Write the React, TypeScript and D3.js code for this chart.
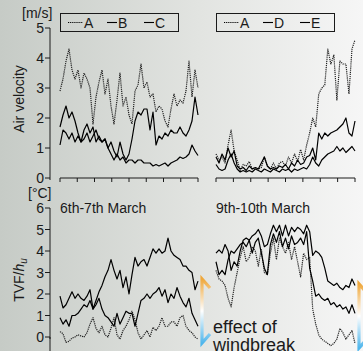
import React from 'react';
import * as d3 from 'd3';

const W = 363;
const H = 351;

// time axis: 48 h per panel, ticks every 6 h
const hourTicks = [0, 6, 12, 18, 24, 30, 36, 42, 48];
const velTicks = [0, 1, 2, 3, 4, 5];
const tempTicks = [0, 1, 2, 3, 4, 5, 6];

// Air velocity [m/s], 6th-7th March
const velA_67 = [2.9, 3.3, 3.9, 4.3, 3.6, 3.3, 3.6, 3.0, 3.5, 3.3, 3.0, 1.8, 2.7, 3.2, 3.6, 2.8, 3.3, 2.4, 1.8, 2.6, 3.5, 2.4, 2.7, 2.1, 1.8, 2.9, 3.1, 3.8, 3.0, 3.2, 2.7, 2.8, 2.2, 2.4, 2.3, 1.9, 1.7, 2.3, 2.8, 2.4, 2.6, 2.5, 2.9, 3.9, 2.7, 3.6, 3.0];
const velB_67 = [1.7, 2.1, 2.4, 2.0, 2.2, 1.9, 1.5, 1.2, 1.6, 1.8, 1.5, 1.7, 1.2, 1.4, 1.2, 1.3, 1.0, 1.2, 0.9, 0.7, 1.2, 0.8, 0.6, 0.8, 1.3, 1.9, 2.2, 2.1, 2.3, 2.3, 1.6, 2.2, 1.1, 1.4, 1.3, 1.5, 1.4, 1.6, 1.5, 1.5, 1.7, 1.5, 1.4, 1.6, 1.9, 2.7, 2.1];
const velC_67 = [1.1, 1.6, 1.5, 1.3, 1.5, 1.2, 1.4, 1.2, 1.3, 1.5, 1.2, 1.4, 1.6, 1.3, 1.2, 1.3, 1.0, 0.8, 0.6, 0.8, 0.6, 0.7, 0.5, 0.6, 0.6, 0.5, 0.6, 0.6, 0.5, 0.5, 0.5, 0.4, 0.45, 0.4, 0.45, 0.5, 0.4, 0.5, 0.55, 0.6, 0.7, 0.65, 0.7, 0.8, 1.1, 0.9, 0.75];

// Air velocity [m/s], 9th-10th March
const velA_910 = [0.8, 0.6, 0.7, 0.5, 1.1, 1.6, 0.9, 0.6, 0.25, 0.45, 0.4, 0.55, 0.3, 0.35, 0.3, 0.35, 0.7, 0.4, 0.3, 0.5, 0.3, 0.5, 0.55, 0.4, 0.7, 0.5, 0.8, 0.55, 0.95, 0.6, 1.1, 1.5, 2.0, 1.7, 2.8, 3.0, 3.1, 4.3, 3.8, 4.1, 2.6, 3.9, 3.8, 3.8, 2.8, 4.3, 4.6];
const velD_910 = [0.7, 0.5, 0.8, 0.6, 1.0, 0.7, 0.9, 0.4, 0.3, 0.35, 0.25, 0.4, 0.3, 0.35, 0.3, 0.5, 0.7, 0.4, 0.3, 0.35, 0.3, 0.4, 0.35, 0.45, 0.3, 0.5, 0.4, 0.6, 0.45, 0.5, 0.7, 0.75, 1.0, 0.6, 1.5, 1.3, 1.5, 1.4, 1.5, 1.55, 1.6, 1.7, 1.8, 2.0, 1.5, 1.4, 1.9];
const velE_910 = [0.45, 0.3, 0.25, 0.3, 0.6, 0.8, 0.5, 0.3, 0.2, 0.25, 0.2, 0.25, 0.2, 0.3, 0.25, 0.2, 0.3, 0.25, 0.2, 0.3, 0.25, 0.2, 0.3, 0.25, 0.3, 0.2, 0.3, 0.25, 0.3, 0.35, 0.3, 0.45, 0.7, 0.5, 0.4, 0.6, 0.7, 0.8, 0.85, 0.9, 1.05, 0.9, 1.0, 0.85, 0.95, 1.05, 0.9];

// TVF/h_u [°C], 6th-7th March
const tvfHigh_67 = [1.9, 1.35, 1.5, 1.8, 2.1, 1.8, 2.0, 1.8, 1.7, 1.9, 2.2, 1.3, 1.7, 2.1, 2.4, 2.8, 3.1, 3.6, 3.1, 2.7, 3.1, 2.3, 2.8, 2.0, 2.9, 3.7, 3.3, 3.5, 3.6, 3.3, 3.7, 4.1, 3.9, 4.1, 3.9, 4.0, 4.6, 4.0, 3.8, 3.7, 3.6, 3.3, 3.3, 3.1, 3.0, 2.2, 2.6];
const tvfMid_67 = [0.9, 0.6, 0.8, 0.5, 1.0, 1.0, 1.1, 1.3, 1.5, 1.4, 1.7, 1.3, 1.5, 1.8, 1.3, 1.0, 0.9, 0.7, 0.5, 1.1, 0.6, 0.9, 1.2, 1.1, 1.1, 0.5, 1.1, 1.7, 1.8, 2.0, 1.8, 2.0, 2.1, 2.3, 1.9, 2.2, 1.6, 2.0, 1.8, 2.3, 1.9, 1.6, 1.4, 1.8, 1.1, 0.8, 0.5];
const tvfA_67 = [0.25, 0.15, -0.25, -0.2, -0.05, 0.0, 0.1, 0.05, 0.0, 0.2, 0.6, 0.9, 0.4, 0.2, 0.5, 0.1, 0.0, 0.4, 0.9, 0.1, -0.1, 0.3, 0.5, 0.8, 1.2, 0.8, 0.2, -0.1, 0.1, 0.3, 0.0, 0.45, 0.3, 0.5, 0.9, 0.5, 0.5, 0.7, 0.7, 0.5, 0.9, 1.0, 0.5, 0.3, 0.2, 0.0, -0.1];

// TVF/h_u [°C], 9th-10th March
const tvfHigh_910 = [3.9, 4.05, 3.9, 4.3, 4.0, 3.1, 3.5, 3.3, 4.0, 4.5, 4.6, 4.5, 4.7, 4.8, 5.0, 4.7, 4.2, 4.3, 4.8, 5.2, 4.9, 5.2, 4.7, 5.2, 4.7, 5.1, 4.9, 5.1, 5.0, 4.8, 5.2, 4.9, 3.8, 4.0, 3.9, 3.7, 3.2, 2.6, 2.5, 2.4, 2.5, 2.3, 2.2, 2.4, 2.3, 2.7, 2.4];
const tvfMid_910 = [3.5, 2.9, 3.1, 2.9, 3.6, 4.0, 3.9, 4.1, 4.3, 4.4, 4.2, 4.5, 3.9, 4.4, 4.6, 3.9, 3.2, 2.9, 4.3, 4.8, 4.4, 4.9, 4.2, 4.6, 4.1, 4.7, 4.3, 4.4, 4.6, 4.3, 4.9, 3.2, 2.6, 1.9, 2.0, 1.8, 1.7, 1.8, 1.5, 1.6, 1.4, 1.5, 1.3, 1.4, 1.1, 1.5, 1.1];
const tvfA_910 = [3.1, 2.7, 2.6, 2.4, 1.8, 1.4, 2.3, 3.0, 3.7, 4.2, 3.5, 3.7, 4.2, 4.0, 3.3, 4.1, 3.0, 2.9, 3.9, 4.6, 3.6, 4.6, 4.2, 3.9, 4.4, 3.6, 4.2, 3.5, 2.8, 3.9, 3.6, 3.7, 1.3, 0.6, 0.1, -0.1, -0.2, -0.3, -0.4, -0.3, -0.1, 0.4, 0.2, -0.1, 0.1, 0.3, -0.3];

const FONT = '"Liberation Sans", Arial, Helvetica, sans-serif';
const INK = '#1a1a1a';

const xL = d3.scaleLinear().domain([0, 48]).range([60, 198]);
const xR = d3.scaleLinear().domain([0, 48]).range([216, 355]);
const yVel = d3.scaleLinear().domain([0, 5]).range([178, 28]);
const yTemp = d3.scaleLinear().domain([0, 6]).range([337, 208]);

function pathOf(vals: number[], x: d3.ScaleLinear<number, number>, y: d3.ScaleLinear<number, number>) {
  const step = 48 / (vals.length - 1);
  return d3.line<number>()
    .x((_, i) => x(i * step))
    .y(d => y(d))(vals) || '';
}

const Series: React.FC<{ vals: number[]; x: any; y: any; dotted?: boolean }> = ({ vals, x, y, dotted }) => (
  <path
    d={pathOf(vals, x, y)}
    fill="none"
    stroke={dotted ? '#222' : '#000'}
    strokeWidth={dotted ? 1.2 : 1.2}
    strokeDasharray={dotted ? '1.2 0.9' : undefined}
    strokeLinejoin="round"
  />
);

const YAxis: React.FC<{ y: any; ticks: number[] }> = ({ y, ticks }) => {
  const r = y.range();
  return (
    <g>
      <line x1={50} x2={50} y1={r[1]} y2={r[0] + 2} stroke={INK} strokeWidth={1} />
      {ticks.map(t => (
        <g key={t}>
          <line x1={45} x2={50} y1={y(t)} y2={y(t)} stroke={INK} strokeWidth={1} />
          <text x={44} y={y(t)} dy="0.36em" textAnchor="end" fontSize={14} fill={INK}>{t}</text>
        </g>
      ))}
    </g>
  );
};

const XAxis: React.FC<{ x: any; y0: number }> = ({ x, y0 }) => (
  <g>
    <line x1={x(0)} x2={x(48)} y1={y0} y2={y0} stroke={INK} strokeWidth={1} />
    {hourTicks.map(t => (
      <line key={t} x1={x(t)} x2={x(t)} y1={y0} y2={y0 + 4} stroke={INK} strokeWidth={1} />
    ))}
  </g>
);

const Legend: React.FC<{ x0: number; labels: string[] }> = ({ x0, labels }) => (
  <g>
    <rect x={x0 + 0.5} y={13.5} width={118} height={18} fill="none" stroke={INK} strokeWidth={1} />
    {labels.map((l, i) => {
      const lx = x0 + 8 + i * 37;
      const dotted = i === 0;
      const x1 = dotted ? lx : lx + 2;
      const x2 = dotted ? lx + 15 : lx + 12;
      return (
        <g key={l}>
          <line x1={x1} x2={x2} y1={22.5} y2={22.5} stroke="#000"
            strokeWidth={1.1} strokeDasharray={dotted ? '1.2 0.9' : undefined} />
          <text x={x2 + 1} y={28} fontSize={14} fill={INK}>{l}</text>
        </g>
      );
    })}
  </g>
);

const Bracket: React.FC<{ x0: number; top: number; bottom: number; id: string }> = ({ x0, top, bottom, id }) => (
  <g>
    <defs>
      <linearGradient id={id} gradientUnits="userSpaceOnUse" x1={0} y1={top} x2={0} y2={bottom}>
        <stop offset="0%" stopColor="#efa83c" />
        <stop offset="50%" stopColor="#ffffff" />
        <stop offset="100%" stopColor="#4fb6ec" />
      </linearGradient>
    </defs>
    <polyline
      points={`${x0 + 8},${top + 9} ${x0},${top} ${x0},${bottom} ${x0 + 8},${bottom - 9}`}
      fill="none" stroke={`url(#${id})`} strokeWidth={3.2} strokeLinejoin="miter"
    />
  </g>
);

export default function App() {
  return (
    <svg width={W} height={H} style={{ position: 'absolute', left: 0, top: 0, display: 'block' }} fontFamily={FONT}>
      <defs>
        <linearGradient id="bg" x1="0" y1="0" x2="1" y2="0">
          <stop offset="0%" stopColor="#c6cbc6" />
          <stop offset="55%" stopColor="#e2e4e1" />
          <stop offset="100%" stopColor="#f6f6f6" />
        </linearGradient>
      </defs>
      <rect x={0} y={0} width={W} height={H} fill="url(#bg)" />

      {/* upper panel: air velocity */}
      <text x={22} y={18} fontSize={14} fill={INK}>[m/s]</text>
      <text transform="translate(24,99) rotate(-90)" textAnchor="middle" fontSize={14} fill={INK}>Air velocity</text>
      <YAxis y={yVel} ticks={velTicks} />
      <XAxis x={xL} y0={178} />
      <XAxis x={xR} y0={178} />
      <Legend x0={60} labels={['A', 'B', 'C']} />
      <Legend x0={216} labels={['A', 'D', 'E']} />
      <Series vals={velA_67} x={xL} y={yVel} dotted />
      <Series vals={velB_67} x={xL} y={yVel} />
      <Series vals={velC_67} x={xL} y={yVel} />
      <Series vals={velA_910} x={xR} y={yVel} dotted />
      <Series vals={velD_910} x={xR} y={yVel} />
      <Series vals={velE_910} x={xR} y={yVel} />

      {/* lower panel: TVF/h_u */}
      <text x={28} y={198} fontSize={14} fill={INK}>[°C]</text>
      <text transform="translate(24,280) rotate(-90)" textAnchor="middle" fontSize={14} fill={INK}>
        TVF/<tspan fontStyle="italic">h</tspan><tspan fontStyle="italic" fontSize={10} dy={3}>u</tspan>
      </text>
      <YAxis y={yTemp} ticks={tempTicks} />
      <line x1={50} x2={50} y1={337} y2={H} stroke={INK} strokeWidth={1} />
      <text x={60} y={213} fontSize={14} fill={INK}>6th-7th March</text>
      <text x={216} y={213} fontSize={14} fill={INK}>9th-10th March</text>
      <Series vals={tvfA_67} x={xL} y={yTemp} dotted />
      <Series vals={tvfMid_67} x={xL} y={yTemp} />
      <Series vals={tvfHigh_67} x={xL} y={yTemp} />
      <Series vals={tvfA_910} x={xR} y={yTemp} dotted />
      <Series vals={tvfMid_910} x={xR} y={yTemp} />
      <Series vals={tvfHigh_910} x={xR} y={yTemp} />

      <Bracket x0={202} top={279} bottom={343} id="brL" />
      <Bracket x0={359} top={284} bottom={348} id="brR" />
      <text x={213} y={333} fontSize={18} fill={INK}>effect of</text>
      <text x={213} y={351} fontSize={18} fill={INK}>windbreak</text>
    </svg>
  );
}
